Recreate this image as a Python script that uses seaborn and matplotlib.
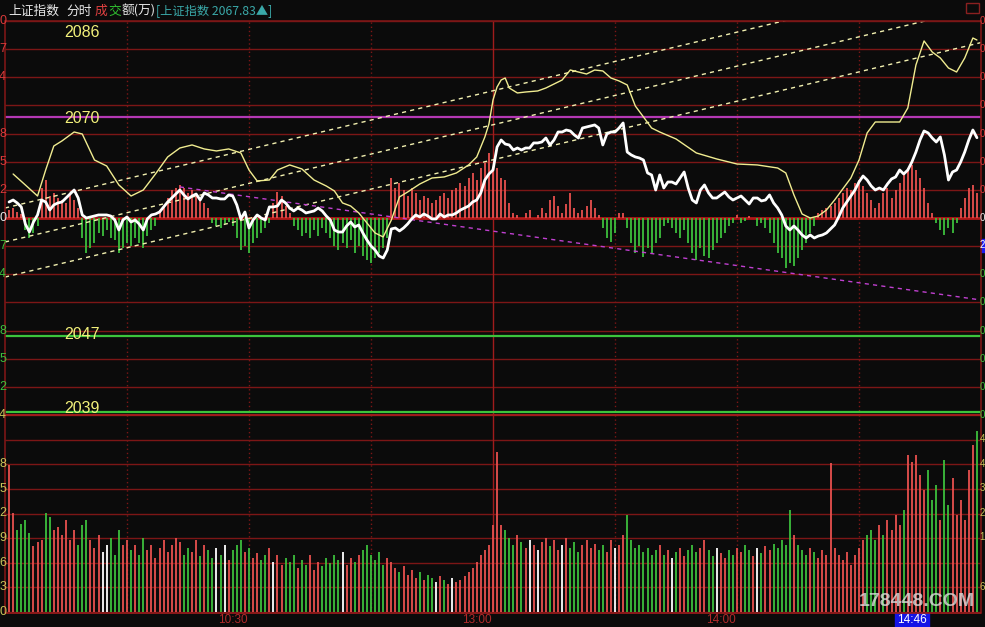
import numpy as np
import pandas as pd
import matplotlib
matplotlib.use("Agg")
import matplotlib.pyplot as plt
import seaborn as sns
from matplotlib.patches import Rectangle

# ---------------- data ----------------
minutes = list(range(1, 240))

price = [
    2061.08, 2061.29, 2060.98, 2060.56, 2058.77, 2057.93, 2058.98, 2059.72, 2061.29, 2061.08,
    2060.24, 2060.77, 2060.98, 2061.08, 2061.50, 2061.92, 2062.34, 2061.50, 2059.72, 2059.40,
    2059.51, 2059.61, 2059.72, 2059.72, 2059.72, 2059.61, 2059.19, 2058.14, 2059.19, 2059.51,
    2058.98, 2059.19, 2058.77, 2058.14, 2059.30, 2059.72, 2059.82, 2060.03, 2060.56, 2061.08,
    2061.50, 2061.92, 2062.34, 2061.82, 2061.40, 2061.71, 2061.92, 2061.29, 2062.03, 2061.82,
    2061.50, 2061.50, 2061.40, 2061.40, 2061.82, 2061.71, 2060.77, 2059.30, 2060.03, 2058.35,
    2059.19, 2059.72, 2059.40, 2059.19, 2060.56, 2060.56, 2060.66, 2061.29, 2060.98, 2060.45,
    2060.14, 2060.45, 2060.24, 2059.93, 2060.03, 2060.14, 2060.45, 2060.14, 2059.61, 2059.19,
    2058.14, 2057.93, 2057.93, 2058.56, 2058.98, 2058.46, 2058.67, 2057.83, 2057.09, 2056.46,
    2056.04, 2055.41, 2055.20, 2056.04, 2058.25, 2058.35, 2058.04, 2058.35, 2058.77, 2059.30,
    2059.72, 2059.51, 2059.82, 2059.61, 2059.30, 2059.30, 2059.82, 2059.51, 2059.72, 2059.72,
    2059.93, 2060.24, 2060.45, 2060.66, 2061.08, 2061.29, 2062.03, 2063.39, 2064.02, 2064.44,
    2066.86, 2067.59, 2067.17, 2067.07, 2066.54, 2066.75, 2066.54, 2066.75, 2066.75, 2067.28,
    2067.28, 2067.38, 2067.80, 2067.07, 2067.59, 2068.43, 2068.43, 2068.64, 2068.54, 2068.12,
    2067.80, 2068.85, 2068.96, 2069.06, 2069.17, 2068.85, 2067.07, 2068.22, 2068.43, 2068.43,
    2068.85, 2069.38, 2066.33, 2066.02, 2065.81, 2065.70, 2065.49, 2064.13, 2063.92, 2062.34,
    2063.92, 2062.55, 2063.18, 2063.18, 2062.97, 2063.60, 2064.23, 2062.55, 2061.29, 2060.98,
    2062.34, 2062.87, 2062.03, 2061.50, 2061.50, 2061.82, 2062.13, 2061.61, 2061.29, 2061.50,
    2061.71, 2061.29, 2060.87, 2061.50, 2061.50, 2061.19, 2061.29, 2061.82, 2060.98, 2060.45,
    2059.72, 2058.56, 2058.14, 2058.56, 2058.14, 2057.62, 2057.30, 2057.62, 2057.30, 2057.51,
    2057.62, 2057.83, 2058.25, 2058.67, 2059.51, 2060.45, 2061.08, 2061.71, 2062.34, 2063.18,
    2063.81, 2063.39, 2062.76, 2062.34, 2062.55, 2062.34, 2062.97, 2063.50, 2063.71, 2064.44,
    2064.02, 2064.44, 2065.28, 2066.33, 2067.59, 2068.54, 2068.33, 2067.80, 2067.38, 2067.91,
    2066.02, 2063.39, 2064.23, 2064.44, 2065.28, 2066.33, 2067.59, 2068.64, 2067.83,
]

volume = [
    17.9, 12.1, 10.0, 10.7, 11.2, 9.6, 8.0, 8.5, 8.8, 12.1,
    11.6, 10.0, 10.4, 9.4, 11.2, 8.8, 10.0, 8.2, 10.6, 11.2,
    8.8, 7.8, 9.4, 7.3, 8.2, 9.0, 7.0, 10.0, 8.2, 8.8,
    7.6, 8.2, 7.0, 9.0, 7.6, 8.2, 6.6, 7.8, 8.8, 7.3,
    8.2, 9.0, 8.5, 7.0, 7.8, 7.3, 8.8, 6.8, 8.2, 7.6,
    6.6, 7.8, 7.0, 8.2, 6.3, 7.6, 8.2, 8.8, 7.3, 7.8,
    6.6, 7.2, 6.3, 7.0, 7.8, 6.1, 7.0, 5.7, 6.6, 6.1,
    7.0, 5.4, 6.3, 5.7, 7.0, 5.1, 6.1, 5.6, 6.6, 6.0,
    7.0, 6.3, 7.3, 5.7, 6.6, 6.1, 7.0, 7.6, 8.2, 7.0,
    6.3, 7.3, 5.7, 6.6, 6.1, 5.4, 4.9, 5.6, 4.5, 5.1,
    4.1, 4.9, 3.9, 4.5, 4.1, 3.7, 4.4, 3.9, 3.4, 4.1,
    3.7, 3.9, 4.4, 4.9, 5.4, 6.1, 7.0, 7.6, 8.2, 10.6,
    19.5, 10.6, 10.0, 9.0, 8.2, 9.4, 8.5, 7.8, 8.8, 8.2,
    7.6, 8.5, 9.0, 8.0, 8.8, 7.6, 8.2, 9.0, 7.8, 8.5,
    7.3, 8.2, 8.8, 7.8, 8.3, 7.6, 8.2, 7.3, 8.8, 7.8,
    8.2, 9.4, 11.8, 8.8, 7.8, 8.2, 7.3, 7.8, 7.0, 7.6,
    8.2, 7.0, 7.6, 6.6, 7.3, 7.8, 6.8, 7.6, 8.2, 7.3,
    7.8, 8.8, 7.6, 6.8, 7.8, 7.2, 6.6, 7.6, 7.0, 7.8,
    7.3, 8.2, 7.6, 6.8, 7.8, 7.2, 8.0, 7.6, 8.3, 7.8,
    8.8, 8.2, 12.4, 9.4, 8.2, 7.6, 7.0, 7.8, 7.3, 6.6,
    7.6, 7.0, 18.2, 7.8, 7.0, 6.3, 7.3, 5.7, 7.0, 7.8,
    8.8, 9.4, 10.0, 8.8, 10.6, 9.4, 11.2, 10.0, 11.8, 10.6,
    12.4, 19.1, 18.3, 19.1, 16.7, 14.9, 17.3, 13.7, 15.5, 11.2,
    18.5, 13.0, 16.3, 11.8, 13.7, 11.2, 17.3, 20.4, 22.0,
]

indicator = [
    8, 10, 6, 4, -12, -20, -15, -8, 30, 38,
    22, 25, 20, 18, 15, 25, 18, 10, -20, -35,
    -30, -25, -15, -18, -12, -20, -22, -35, -30, -25,
    -28, -20, -25, -30, -18, -12, -8, 8, 12, 20,
    28, 30, 33, 30, 25, 28, 22, 18, 15, 10,
    -5, -8, -10, -6, -4, -8, -20, -32, -28, -35,
    -25, -20, -15, -10, -5, 15, 26, 22, 12, 5,
    -8, -12, -18, -15, -20, -12, -18, -10, -15, -20,
    -28, -32, -25, -30, -22, -35, -28, -38, -42, -45,
    -40, -35, -30, -20, 40, 30, 35, 28, 22, 30,
    25, 18, 22, 20, 15, 18, 22, 25, 20, 28,
    30, 35, 32, 40, 45, 38, 50, 55, 65, 48,
    50, 40, 38, 15, 5, 3, 0, 5, 8, 0,
    3, 10, 5, 18, 22, 12, 5, 14, 25, 10,
    5, 8, 12, 18, 10, 3, -10, -20, -24, -15,
    5, 5, -10, -25, -35, -28, -39, -30, -35, -25,
    -20, -8, -5, -10, -15, -20, -12, -25, -35, -42,
    -30, -38, -40, -32, -25, -20, -15, -8, -5, 3,
    -5, -3, 2, 0, -8, -5, -10, -15, -25, -35,
    -40, -50, -45, -48, -40, -32, -25, -15, -8, 5,
    8, 10, 12, 15, 20, 25, 30, 28, 35, 38,
    32, 25, 18, 10, 15, 25, 30, 20, 28, 35,
    45, 50, 53, 48, 40, 30, 15, 5, -5, -12,
    -17, -10, -15, -5, 10, 20, 30, 33, 25,
]

yellow_min = [2, 5, 8, 10, 12, 14, 17, 19, 22, 25, 28, 31, 34, 37, 40, 43, 46, 49, 52, 55,
              58, 60, 62, 65, 67, 70, 73, 76, 79, 81, 83, 85, 87, 89, 91, 93, 95, 97, 99, 102,
              105, 108, 111, 114, 116, 118, 119, 120, 121, 122, 123, 124, 126, 128, 131, 133, 135, 137, 139, 141,
              143, 145, 147, 149, 151, 153, 155, 157, 159, 161, 165, 170, 175, 180, 185, 190, 192, 194, 196, 198,
              200, 202, 204, 206, 208, 210, 212, 214, 217, 220, 222, 224, 226, 228, 230, 232, 234, 236, 238, 239]
yellow_val = [2064.02, 2062.87, 2061.71, 2064.44, 2066.96, 2067.49, 2068.43, 2068.22, 2065.49, 2064.86,
              2062.87, 2061.71, 2062.34, 2064.02, 2065.81, 2066.75, 2067.07, 2066.65, 2066.44, 2066.65,
              2066.23, 2064.44, 2063.29, 2063.39, 2064.44, 2064.97, 2064.55, 2063.39, 2062.76, 2062.24,
              2060.98, 2060.66, 2059.93, 2058.88, 2057.83, 2057.41, 2059.19, 2061.61, 2062.13, 2062.97,
              2063.60, 2063.71, 2064.13, 2064.97, 2065.81, 2067.91, 2069.27, 2071.79, 2073.16, 2073.89,
              2074.10, 2073.05, 2072.53, 2072.63, 2072.74, 2073.05, 2073.47, 2073.89, 2074.94, 2074.73,
              2074.52, 2074.94, 2074.84, 2074.10, 2073.79, 2073.37, 2071.16, 2070.01, 2068.85, 2068.43,
              2067.70, 2066.23, 2065.60, 2065.07, 2064.97, 2064.65, 2064.13, 2061.82, 2059.82, 2059.40,
              2059.61, 2060.24, 2061.29, 2062.45, 2063.60, 2065.49, 2068.33, 2069.48, 2069.48, 2069.48,
              2070.95, 2075.47, 2077.99, 2076.83, 2076.20, 2075.15, 2074.73, 2076.20, 2078.30, 2078.09]

prev_close = 2059.40
grid_step = 2.955
level_lines = [2070, 2047, 2039]
level_colors = ["#b438b4", "#3cc43c", "#3cc43c"]
level_labels = ["2086", "2070", "2047", "2039"]
level_label_prices = [2078.9, 2069.8, 2047.2, 2039.45]

channel_x = [0, 240]
channel_prices = [[2060.45, 2085.07], [2056.88, 2081.50], [2053.20, 2077.82]]
trend_x = [43, 240]
trend_prices = [2062.66, 2050.79]

time_ticks = [30, 60, 90, 120, 150, 180, 210]
time_labels = {60: "10:30", 120: "13:00", 180: "14:00"}

# ---------------- style ----------------
BG = "#0b0b0b"
GRID = "#7c1616"
RED = "#e8504e"
GREEN = "#3cbf3c"

sns.set_theme(style="dark")
plt.rcParams["font.family"] = ["Liberation Sans", "Noto Sans CJK SC", "DejaVu Sans"]

W, H = 985, 627
fig = plt.figure(figsize=(W / 100, H / 100), dpi=100, facecolor=BG)

def fx(px):
    return px / W

def fy(py):
    return 1 - py / H

def T(px, py, s, **kw):
    return fig.text(fx(px), fy(py), s, **kw)

X0, X1 = 5, 981
axb = fig.add_axes([fx(X0), fy(415), fx(X1) - fx(X0), fy(21) - fy(415)])
ax = axb.twinx()
axv = fig.add_axes([fx(X0), fy(612), fx(X1) - fx(X0), fy(415) - fy(612)])

for a in (axb, ax, axv):
    a.set_facecolor(BG)
    for s in a.spines.values():
        s.set_visible(False)
    a.set_xticks([])
    a.set_yticks([])
    a.set_xlim(0, 240)
    a.grid(False)
ax.patch.set_visible(False)

ylo = prev_close - 197 * 0.105
yhi = prev_close + 197 * 0.105
ax.set_ylim(ylo, yhi)
axb.set_ylim(-197, 197)
axv.set_ylim(0, 24)

# grid lines
for k in range(-7, 8):
    lw = 2.0 if k == 0 else 1.0
    col = "#b01818" if k == 0 else GRID
    axb.axhline(k * 197 / 7, color=col, lw=lw, zorder=0.5)
for v in range(0, 25, 3):
    axv.axhline(v, color=GRID, lw=1.0, zorder=0.5)
for t in time_ticks:
    ls = "-" if t == 120 else (0, (1, 2))
    for a in (axb, axv):
        a.axvline(t, color="#a01c1c" if t == 120 else GRID, lw=1.0, ls=ls, zorder=0.5)

# indicator bars
ind = np.array(indicator, dtype=float)
mins = np.array(minutes)
axb.vlines(mins[ind > 0], 0, ind[ind > 0], colors=RED, lw=1.3, zorder=2)
axb.vlines(mins[ind < 0], 0, ind[ind < 0], colors=GREEN, lw=1.3, zorder=2)

# volume bars coloured by price change
pr = np.array(price)
diff = np.diff(np.concatenate([[prev_close], pr]))
vcols = np.where(diff > 0, RED, np.where(diff < 0, GREEN, "#ffffff"))
axv.vlines(mins, 0, volume, colors=vcols, lw=1.3, zorder=2)

# level lines
for lv, c in zip(level_lines, level_colors):
    ax.axhline(lv, color=c, lw=1.6, zorder=3)

# channel + trend lines
for cp in channel_prices:
    ax.plot(channel_x, cp, color="#f2f0b0", lw=1.0, ls=(0, (3, 3)), zorder=3)
ax.plot(trend_x, trend_prices, color="#c040d0", lw=1.0, ls=(0, (3, 3)), zorder=3)

# yellow and white lines (seaborn)
df_y = pd.DataFrame({"minute": yellow_min, "value": yellow_val})
sns.lineplot(data=df_y, x="minute", y="value", ax=ax, color="#f0ec90", lw=1.0,
             estimator=None, sort=False, zorder=4)
df_p = pd.DataFrame({"minute": minutes, "price": price})
sns.lineplot(data=df_p, x="minute", y="price", ax=ax, color="#ffffff", lw=2.0,
             estimator=None, sort=False, zorder=5)
ax.set_xlabel("")
ax.set_ylabel("")
ax.set_yticks([])
ax.set_xlim(0, 240)
ax.set_ylim(ylo, yhi)

# level labels
for lab, lp in zip(level_labels, level_label_prices):
    ax.text(14.6, lp, lab, color="#f2f07a", fontsize=11.5, va="center", ha="left",
            family=["Liberation Sans", "DejaVu Sans"], zorder=6)

# borders
fig.add_artist(plt.Line2D([fx(X0), fx(X0)], [fy(21), fy(612)], color=GRID, lw=1.2))
fig.add_artist(plt.Line2D([fx(X1), fx(X1)], [fy(21), fy(612)], color=GRID, lw=1.2))
fig.add_artist(plt.Line2D([fx(X0), fx(X1)], [fy(21), fy(21)], color=GRID, lw=1.2))
fig.add_artist(plt.Line2D([fx(X0), fx(X1)], [fy(612.5), fy(612.5)], color="#a01c1c", lw=1.2))
fig.add_artist(plt.Line2D([fx(X0), fx(X1)], [fy(415), fy(415)], color="#a01c1c", lw=1.4))

# header
cjk = ["Noto Sans CJK SC", "DejaVu Sans"]
T(8, 11, "上证指数", color="#e8e8e8", fontsize=9.2, va="center", family=cjk)
T(66, 11, "分时", color="#e8e8e8", fontsize=9.2, va="center", family=cjk)
T(95, 11, "成", color="#e04040", fontsize=9.2, va="center", family=cjk)
T(108, 11, "交", color="#30c030", fontsize=9.2, va="center", family=cjk)
T(121, 11, "额(万)", color="#e8e8e8", fontsize=9.2, va="center", family=cjk)
T(156, 11, "[上证指数 2067.83▲]", color="#3aa8a8", fontsize=8.8, va="center", family=cjk)
fig.add_artist(Rectangle((fx(966), fy(13)), fx(13), fy(3) - fy(13), fill=False,
                         edgecolor="#8a2020", lw=1.0))

# left scale digits
left_up = ["0", "7", "4", "", "8", "5", "2", "0", "7", "4", "", "8", "5", "2"]
for k, s in enumerate(left_up):
    py = 21 + k * 394 / 14
    c = "#d83a3a" if k < 7 else ("#e8e8e8" if k == 7 else "#3cbf3c")
    T(6, py, s, color=c, fontsize=9, ha="right", va="center")
left_vol = ["4", "", "8", "5", "2", "9", "6", "3", "0"]
for k, s in enumerate(left_vol):
    py = 415 + k * 197 / 8
    T(6, py, s, color="#c8c45a", fontsize=9, ha="right", va="center")

# right scale digits (kept inside the canvas)
for k in range(15):
    if k == 8:
        continue
    py = 21 + k * 394 / 14
    if k == 7:
        c = "#e8e8e8"
    elif k < 7:
        c = "#d83a3a"
    else:
        c = "#3cbf3c"
    T(985, py, "0", color=c, fontsize=7, ha="right", va="center")
fig.add_artist(Rectangle((fx(981), fy(252)), fx(4), fy(239) - fy(252), color="#1c1cf0"))
T(985, 245, "2", color="#ffffff", fontsize=7, ha="right", va="center")
for k, s in enumerate(["4", "4", "3", "2", "1", "", "6", ""]):
    py = 439 + k * 197 / 8
    T(985, py, s, color="#c8c45a", fontsize=7, ha="right", va="center")

# time labels
for t, lab in time_labels.items():
    px = X0 + t * (X1 - X0) / 240
    T(px - 1, 620, lab, color="#b02a2a", fontsize=8.5, ha="right", va="center")
fig.add_artist(Rectangle((fx(895), fy(627)), fx(34), fy(613) - fy(627), color="#1414e6"))
T(912, 620, "14:46", color="#ffffff", fontsize=8.5, ha="center", va="center")

# watermark
T(917, 601, "178448.COM", color="#dcdcdc", alpha=0.8, fontsize=14, fontweight="bold",
  ha="center", va="center", family=["Liberation Sans", "DejaVu Sans"])

fig.savefig("out.png", dpi=100, facecolor=BG)
